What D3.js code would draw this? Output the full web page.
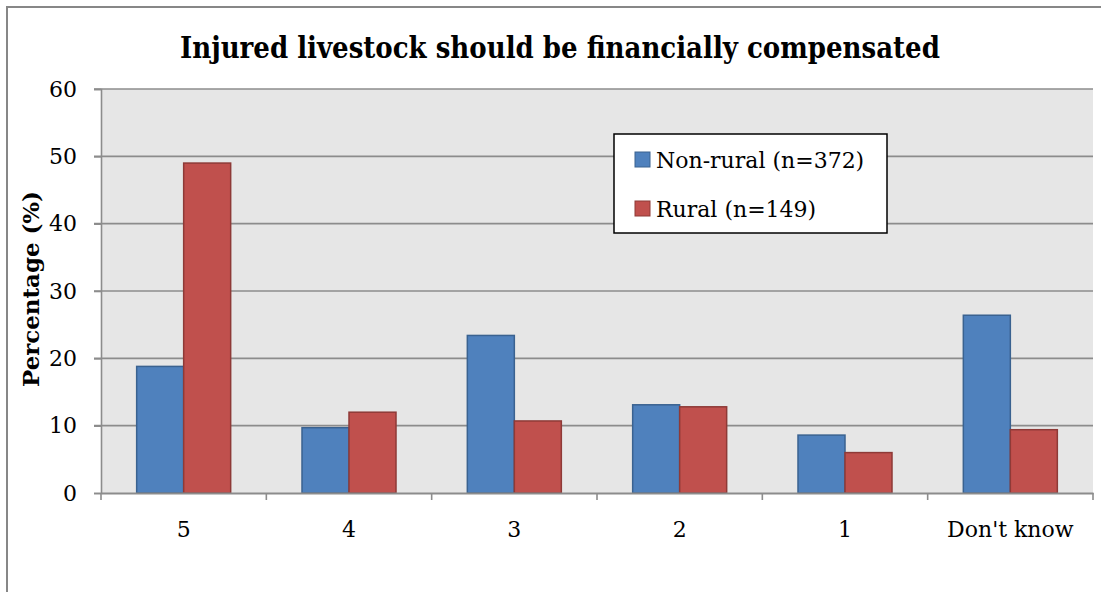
<!DOCTYPE html>
<html><head><meta charset="utf-8">
<script src="https://cdn.jsdelivr.net/npm/d3@7"></script>
<style>body{margin:0;background:#fff}svg{display:block}text{font-family:"DejaVu Serif",serif;fill:#000}</style>
</head><body>
<script>
const categories = ["5","4","3","2","1","Don't know"];
const seriesNames = ["Non-rural (n=372)","Rural (n=149)"];
const nonRural = [18.8, 9.7, 23.4, 13.1, 8.6, 26.4];
const rural = [49.0, 12.0, 10.7, 12.8, 6.0, 9.4];
const yTicks = [0,10,20,30,40,50,60];
const title = "Injured livestock should be financially compensated";
const yTitle = "Percentage (%)";

const W=1101,H=592;
const svg=d3.select("body").append("svg").attr("width",W).attr("height",H);
svg.append("path").attr("d",`M7,${H} V7 H${W}`).attr("fill","none").attr("stroke","#878787").attr("stroke-width",2);

const L=101,R=1093,T=89,B=493;
const x=d3.scaleBand().domain(categories).range([L,R]);
const y=d3.scaleLinear().domain([0,60]).range([B,T]);
svg.append("rect").attr("x",L).attr("y",T).attr("width",R-L).attr("height",B-T).attr("fill","#e6e6e6");

svg.append("g").selectAll("line").data(yTicks.filter(d=>d>0)).join("line")
 .attr("x1",L-7).attr("x2",R).attr("y1",d=>y(d)).attr("y2",d=>y(d))
 .attr("stroke","#8c8c8c").attr("stroke-width",1.6);

const FS=22;
const ya=svg.append("g").attr("transform",`translate(${L},0)`).call(d3.axisLeft(y).tickValues(yTicks).tickSize(7).tickPadding(17));
ya.select(".domain").attr("stroke","#8c8c8c").attr("stroke-width",1.6);
ya.selectAll(".tick line").attr("stroke","#8c8c8c").attr("stroke-width",1.6);
ya.selectAll("text").attr("font-size",FS).attr("font-family","DejaVu Serif").attr("fill","#000");

const bw=47;
const data=[nonRural,rural];
const fills=["#4f81bd","#c0504d"], strokes=["#3a6290","#8e3a37"];
data.forEach((arr,si)=>{
  svg.append("g").selectAll("rect").data(arr).join("rect")
   .attr("x",(d,i)=>x(categories[i])+x.bandwidth()/2-bw+si*bw)
   .attr("y",d=>y(d)).attr("width",bw).attr("height",d=>B-y(d))
   .attr("fill",fills[si]).attr("stroke",strokes[si]).attr("stroke-width",1.5);
});

const xa=svg.append("g").attr("transform",`translate(0,${B})`).call(d3.axisBottom(x).tickSize(0).tickPadding(28));
xa.select(".domain").attr("stroke","#8c8c8c").attr("stroke-width",2);
xa.selectAll("text").attr("font-size",FS).attr("font-family","DejaVu Serif").attr("fill","#000");
const bounds=[...categories.map(c=>x(c)),R];
svg.append("g").selectAll("line").data(bounds).join("line")
 .attr("x1",d=>d).attr("x2",d=>d).attr("y1",B).attr("y2",B+7)
 .attr("stroke","#8c8c8c").attr("stroke-width",1.6);

function fit(sel,base,target){const l=sel.node().getComputedTextLength();sel.attr("font-size",base*target/l);}

const tt=svg.append("text").attr("x",560).attr("y",58).attr("text-anchor","middle")
 .attr("font-family","'DejaVu Serif Condensed','DejaVu Serif',serif").attr("font-stretch","condensed")
 .attr("font-weight","bold").attr("font-size",26).text(title);
fit(tt,26,760);

const yt=svg.append("text").attr("transform","translate(39,289) rotate(-90)").attr("text-anchor","middle")
 .attr("font-weight","bold").attr("font-size",21).text(yTitle);
fit(yt,21,196);

const lg=svg.append("g");
lg.append("rect").attr("x",614).attr("y",134).attr("width",273).attr("height",99).attr("fill","#fff").attr("stroke","#000").attr("stroke-width",1.5);
seriesNames.forEach((n,i)=>{
  const yy=152+i*49;
  lg.append("rect").attr("x",635).attr("y",yy).attr("width",15).attr("height",15).attr("fill",fills[i]).attr("stroke",strokes[i]).attr("stroke-width",1);
  lg.append("text").attr("x",656).attr("y",yy+16).attr("font-size",FS).text(n);
});
</script>
</body></html>
